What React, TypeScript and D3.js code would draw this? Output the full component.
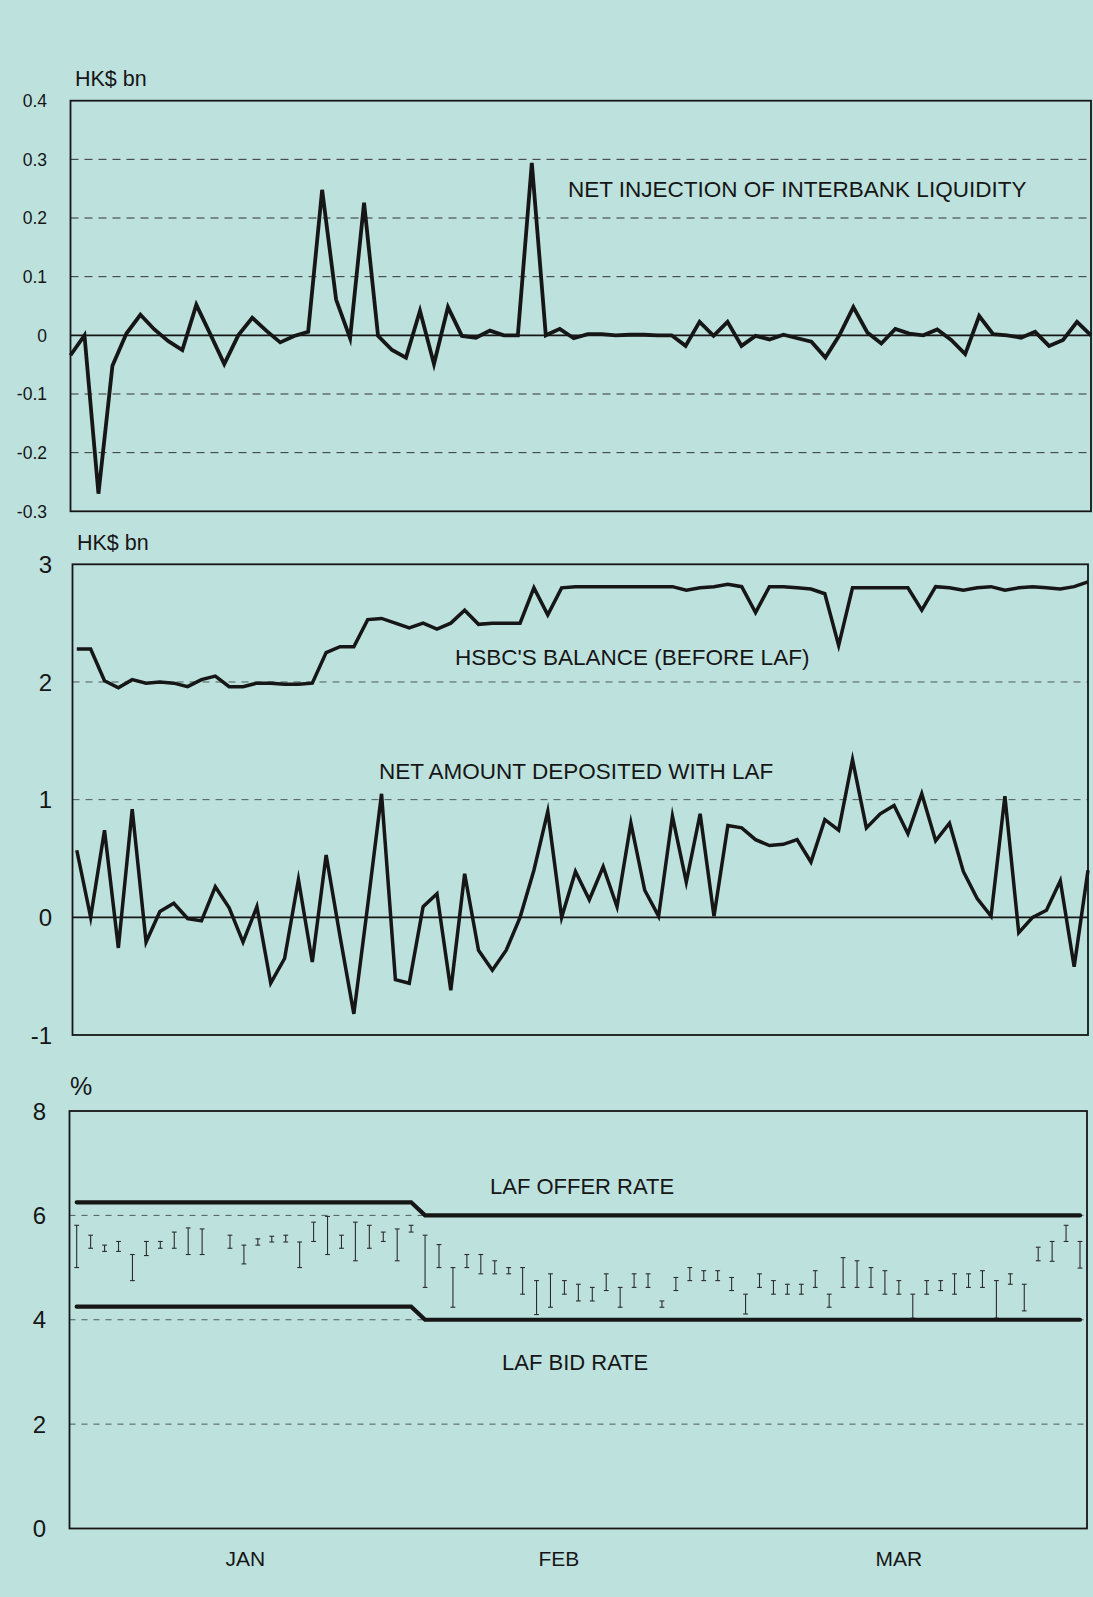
import React from "react";
import * as d3 from "d3";

// ---------- Panel 1: net injection of interbank liquidity (HK$ bn) ----------
const netInjection: number[] = [
  -0.034, 0.0, -0.27, -0.052, 0.003, 0.035, 0.01, -0.01, -0.025, 0.052,
  0.002, -0.049, 0.0, 0.03, 0.008, -0.012, -0.001, 0.006, 0.248, 0.061,
  -0.005, 0.226, -0.001, -0.025, -0.038, 0.042, -0.049, 0.048, -0.001, -0.004,
  0.008, 0.0, 0.0, 0.294, 0.0, 0.011, -0.005, 0.002, 0.002, 0.0,
  0.001, 0.001, 0.0, 0.0, -0.018, 0.023, -0.001, 0.023, -0.018, -0.001,
  -0.007, 0.001, -0.005, -0.011, -0.038, 0.0, 0.048, 0.005, -0.014, 0.011,
  0.003, 0.0, 0.01, -0.008, -0.032, 0.033, 0.002, 0.0, -0.004, 0.006,
  -0.018, -0.008, 0.023, 0.0,
];
const p1Ticks = [0.4, 0.3, 0.2, 0.1, 0, -0.1, -0.2, -0.3];
const p1TickLabels = ["0.4", "0.3", "0.2", "0.1", "0", "-0.1", "-0.2", "-0.3"];
const p1Grid = [0.3, 0.2, 0.1, -0.1, -0.2];

// ---------- Panel 2: HSBC balance and net amount deposited with LAF ----------
const hsbcBalance: number[] = [
  2.28, 2.28, 2.01, 1.95, 2.02, 1.99, 2.0, 1.99, 1.96, 2.02,
  2.05, 1.96, 1.96, 1.99, 1.99, 1.98, 1.98, 1.99, 2.25, 2.3,
  2.3, 2.53, 2.54, 2.5, 2.46, 2.5, 2.45, 2.5, 2.61, 2.49,
  2.5, 2.5, 2.5, 2.8, 2.57, 2.8, 2.81, 2.81, 2.81, 2.81,
  2.81, 2.81, 2.81, 2.81, 2.78, 2.8, 2.81, 2.83, 2.81, 2.59,
  2.81, 2.81, 2.8, 2.79, 2.75, 2.31, 2.8, 2.8, 2.8, 2.8,
  2.8, 2.61, 2.81, 2.8, 2.78, 2.8, 2.81, 2.78, 2.8, 2.81,
  2.8, 2.79, 2.81, 2.85,
];
const netDeposited: number[] = [
  0.57, 0.0, 0.74, -0.26, 0.92, -0.21, 0.05, 0.12, -0.01, -0.03,
  0.26, 0.08, -0.21, 0.09, -0.56, -0.35, 0.32, -0.38, 0.53, -0.16,
  -0.82, 0.1, 1.05, -0.53, -0.56, 0.09, 0.2, -0.62, 0.37, -0.28,
  -0.45, -0.28, 0.0, 0.4, 0.9, 0.0, 0.39, 0.15, 0.43, 0.09,
  0.8, 0.23, 0.01, 0.86, 0.3, 0.88, 0.01, 0.78, 0.76, 0.66,
  0.61, 0.62, 0.66, 0.47, 0.83, 0.74, 1.34, 0.76, 0.88, 0.95,
  0.71, 1.05, 0.65, 0.8, 0.39, 0.16, 0.01, 1.03, -0.13, 0.0,
  0.06, 0.31, -0.42, 0.4,
];
const p2Ticks = [3, 2, 1, 0, -1];
const p2TickLabels = ["3", "2", "1", "0", "-1"];
const p2Grid = [2, 1];

// ---------- Panel 3: LAF rates and interbank range (%) ----------
const rateDays = [0, 24, 25, 72];
const offerRate = [6.25, 6.25, 6.0, 6.0];
const bidRate = [4.25, 4.25, 4.0, 4.0];
const rangeHigh: (number | null)[] = [
  5.81, 5.62, 5.43, 5.5, 5.25, 5.5, 5.5, 5.68, 5.76, 5.74,
  null, 5.62, 5.43, 5.55, 5.6, 5.62, 5.49, 5.87, 5.98, 5.62,
  5.87, 5.81, 5.68, 5.74, 5.81, 5.62, 5.44, 5.0, 5.25, 5.25,
  5.13, 5.0, 5.0, 4.75, 4.88, 4.75, 4.68, 4.62, 4.88, 4.62,
  4.88, 4.88, 4.36, 4.81, 5.0, 4.94, 4.94, 4.81, 4.49, 4.88,
  4.75, 4.68, 4.68, 4.94, 4.49, 5.19, 5.13, 5.0, 4.94, 4.75,
  4.49, 4.75, 4.75, 4.88, 4.88, 4.94, 4.75, 4.88, 4.68, 5.39,
  5.5, 5.81, 5.5,
];
const rangeLow: (number | null)[] = [
  5.0, 5.37, 5.31, 5.31, 4.75, 5.23, 5.37, 5.37, 5.25, 5.25,
  null, 5.37, 5.07, 5.43, 5.49, 5.49, 5.0, 5.5, 5.25, 5.37,
  5.13, 5.37, 5.5, 5.13, 5.68, 4.62, 5.0, 4.24, 5.0, 4.88,
  4.88, 4.88, 4.49, 4.1, 4.24, 4.49, 4.36, 4.36, 4.56, 4.24,
  4.62, 4.62, 4.24, 4.56, 4.75, 4.75, 4.75, 4.56, 4.11, 4.62,
  4.49, 4.49, 4.49, 4.62, 4.24, 4.62, 4.62, 4.62, 4.49, 4.49,
  4.03, 4.49, 4.56, 4.49, 4.62, 4.62, 4.03, 4.68, 4.17, 5.13,
  5.12, 5.5, 4.99,
];
const p3Ticks = [8, 6, 4, 2, 0];
const p3TickLabels = ["8", "6", "4", "2", "0"];
const p3Grid = [6, 4, 2];
const monthLabels = ["JAN", "FEB", "MAR"];
const monthCenters = [12.1, 34.6, 59.0];

const BG = "#bde2de";
const INK = "#161616";
const FONT = "'Liberation Sans', Arial, Helvetica, sans-serif";

export default function App() {
  // scales
  const x1 = d3.scaleLinear().domain([0, netInjection.length - 1]).range([70.5, 1091]);
  const y1 = d3.scaleLinear().domain([-0.3, 0.4]).range([511.3, 100.7]);

  const x2 = d3.scaleLinear().domain([0, hsbcBalance.length - 1]).range([76.8, 1088]);
  const y2 = d3.scaleLinear().domain([-1, 3]).range([1035, 564.3]);

  const x3 = d3.scaleLinear().domain([0, rangeHigh.length - 1]).range([76.7, 1080]);
  const y3 = d3.scaleLinear().domain([0, 8]).range([1528.5, 1111]);

  const line1 = d3.line<number>().x((_, i) => x1(i)).y((d) => y1(d));
  const line2 = d3.line<number>().x((_, i) => x2(i)).y((d) => y2(d));
  const rateLine = d3
    .line<number>()
    .x((_, i) => x3(rateDays[i]))
    .y((d) => y3(d));

  const p1 = { l: 70.5, r: 1091, t: 100.7, b: 511.3 };
  const p2 = { l: 72.5, r: 1088, t: 564.3, b: 1035 };
  const p3 = { l: 69.5, r: 1087, t: 1111, b: 1528.5 };

  return (
    <svg
      width={1093}
      height={1597}
      style={{ position: "absolute", left: 0, top: 0, display: "block" }}
      fontFamily={FONT}
    >
      <rect x={0} y={0} width={1093} height={1597} fill={BG} />

      {/* ================= Panel 1 ================= */}
      <text x={75} y={86} fontSize={21.5} fill={INK}>HK$ bn</text>
      {p1Ticks.map((t, i) => (
        <text key={"p1t" + i} x={47} y={y1(t)} dy="0.36em" fontSize={17.5} textAnchor="end" fill={INK}>
          {p1TickLabels[i]}
        </text>
      ))}
      {p1Grid.map((g, i) => (
        <line key={"p1g" + i} x1={p1.l} x2={p1.r} y1={y1(g)} y2={y1(g)} stroke="#333" strokeWidth={1} strokeDasharray="8,6" />
      ))}
      <line x1={p1.l} x2={p1.r} y1={y1(0)} y2={y1(0)} stroke={INK} strokeWidth={1.8} />
      <text x={568} y={197} fontSize={22.5} fill={INK}>NET INJECTION OF INTERBANK LIQUIDITY</text>
      <path d={line1(netInjection) || ""} fill="none" stroke={INK} strokeWidth={3.8} strokeLinejoin="miter" strokeMiterlimit={6} />
      <rect x={p1.l} y={p1.t} width={p1.r - p1.l} height={p1.b - p1.t} fill="none" stroke={INK} strokeWidth={1.8} />

      {/* ================= Panel 2 ================= */}
      <text x={77} y={550} fontSize={21.5} fill={INK}>HK$ bn</text>
      {p2Ticks.map((t, i) => (
        <text key={"p2t" + i} x={52} y={y2(t)} dy="0.36em" fontSize={24} textAnchor="end" fill={INK}>
          {p2TickLabels[i]}
        </text>
      ))}
      {p2Grid.map((g, i) => (
        <line key={"p2g" + i} x1={p2.l} x2={p2.r} y1={y2(g)} y2={y2(g)} stroke="#4a5a58" strokeWidth={1} strokeDasharray="7,6" />
      ))}
      <line x1={p2.l} x2={p2.r} y1={y2(0)} y2={y2(0)} stroke={INK} strokeWidth={1.6} />
      <text x={455} y={665} fontSize={22.5} fill={INK}>HSBC'S BALANCE (BEFORE LAF)</text>
      <text x={379} y={779} fontSize={22.5} fill={INK}>NET AMOUNT DEPOSITED WITH LAF</text>
      <path d={line2(hsbcBalance) || ""} fill="none" stroke={INK} strokeWidth={3.5} strokeLinejoin="miter" strokeMiterlimit={6} />
      <path d={line2(netDeposited) || ""} fill="none" stroke={INK} strokeWidth={3.5} strokeLinejoin="miter" strokeMiterlimit={6} />
      <rect x={p2.l} y={p2.t} width={p2.r - p2.l} height={p2.b - p2.t} fill="none" stroke={INK} strokeWidth={1.8} />

      {/* ================= Panel 3 ================= */}
      <text x={70} y={1095} fontSize={25} fill={INK}>%</text>
      {p3Ticks.map((t, i) => (
        <text key={"p3t" + i} x={46} y={y3(t)} dy="0.36em" fontSize={24} textAnchor="end" fill={INK}>
          {p3TickLabels[i]}
        </text>
      ))}
      {p3Grid.map((g, i) => (
        <line key={"p3g" + i} x1={p3.l} x2={p3.r} y1={y3(g)} y2={y3(g)} stroke="#4a5a58" strokeWidth={1} strokeDasharray="6,6" />
      ))}
      {rangeHigh.map((h, i) => {
        const lo = rangeLow[i];
        if (h === null || lo === null) return null;
        const cx = x3(i);
        return (
          <g key={"rb" + i} stroke="#2b2b2b" strokeWidth={1.1}>
            <line x1={cx} x2={cx} y1={y3(h)} y2={y3(lo)} />
            <line x1={cx - 2.4} x2={cx + 2.4} y1={y3(h)} y2={y3(h)} />
            <line x1={cx - 2.4} x2={cx + 2.4} y1={y3(lo)} y2={y3(lo)} />
          </g>
        );
      })}
      <path d={rateLine(offerRate) || ""} fill="none" stroke={INK} strokeWidth={4.2} strokeLinecap="round" />
      <path d={rateLine(bidRate) || ""} fill="none" stroke={INK} strokeWidth={4.2} strokeLinecap="round" />
      <text x={490} y={1194} fontSize={22} fill={INK}>LAF OFFER RATE</text>
      <text x={502} y={1370} fontSize={22} fill={INK}>LAF BID RATE</text>
      <rect x={p3.l} y={p3.t} width={p3.r - p3.l} height={p3.b - p3.t} fill="none" stroke={INK} strokeWidth={1.8} />
      {monthLabels.map((m, i) => (
        <text key={"m" + i} x={x3(monthCenters[i])} y={1566} fontSize={21} textAnchor="middle" fill={INK}>
          {m}
        </text>
      ))}
    </svg>
  );
}
